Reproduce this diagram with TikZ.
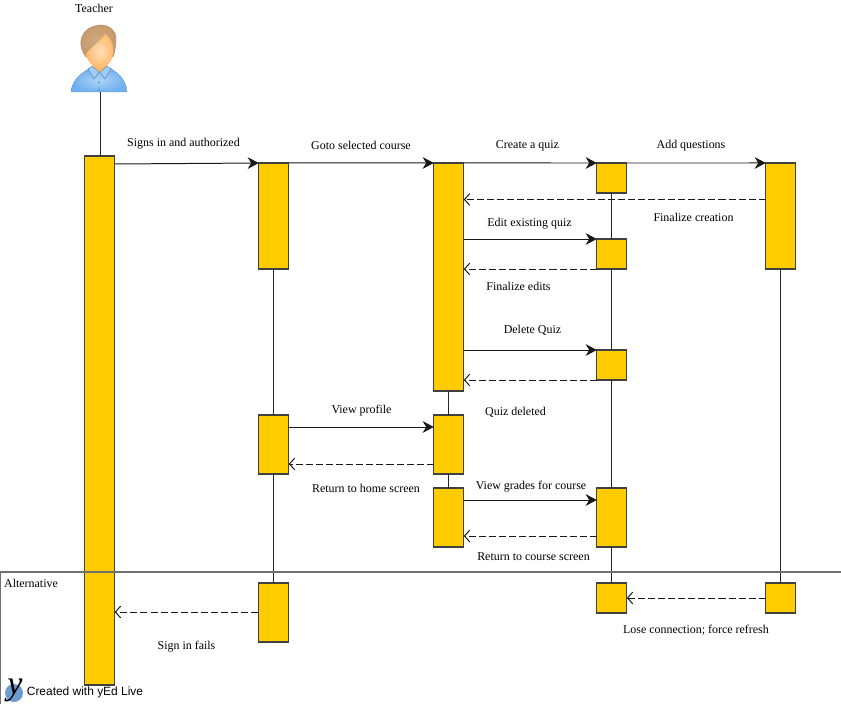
\documentclass[tikz,border=0pt]{standalone}
\usepackage{fontspec}
\setmainfont{Liberation Serif}
\setsansfont{Liberation Sans}
\usetikzlibrary{arrows.meta}
\definecolor{barfill}{HTML}{FFCC00}
\definecolor{boxgray}{HTML}{707070}
\definecolor{hair}{HTML}{C69A6C}
\definecolor{skin}{HTML}{FFC47E}
\definecolor{shirt}{HTML}{6FB0EE}
\definecolor{logoblue}{HTML}{6C9BD0}
\tikzset{
	bar/.style={draw=black!75,fill=barfill,line width=1pt,minimum width=0.9cm,inner sep=0pt,outer sep=0pt},
	msg/.style={line width=0.85pt,black!90,-{Stealth[length=9.5pt,width=10pt,inset=3pt]}},
	reply/.style={line width=0.85pt,black!90,dash pattern=on 6pt off 2.6pt,-{Straight Barb[length=4.5pt,width=10pt]}},
	lifeline/.style={line width=0.85pt,black!85},
	lbl/.style={font=\fontsize{10.2}{12}\selectfont,inner sep=0pt,text height=7pt,text depth=2pt,yshift=-0.85pt}
}
\begin{document}
\begin{tikzpicture}[x=0.03cm,y=-0.03cm]
	\useasboundingbox (0,0) rectangle (841,704);
	
	% teacher icon
	\shade[inner color=shirt!55!white,outer color=shirt,draw=shirt!85!black,line width=0.3pt] (71,92)..controls (72,78) and (84,72) .. (90,68)--(110,68)..controls (116,72) and (126,78) .. (127,92)--cycle;
	\fill[skin!80!orange] (93,62)--(107,62)--(107,72)--(93,72)--cycle;
	\fill[shirt!65!white,draw=shirt!70!black,line width=0.3pt] (88,69)--(92,66)--(99,72)--(94,79)--cycle;
	\fill[shirt!65!white,draw=shirt!70!black,line width=0.3pt] (111,69)--(107,66)--(100,72)--(105,79)--cycle;
	\fill[shirt!70!black] (99,82) circle [radius=0.9];
	\fill[shirt!70!black] (99,90) circle [radius=0.9];
	\shade[inner color=hair!85!white,outer color=hair,draw=hair!85!black,line width=0.3pt] (86,57)..controls (82,52) and (80,45) .. (81,40)..controls (83,30) and (92,25) .. (102,25)..controls (108,25) and (116,30) .. (116,38)..controls (116,46) and (115,52) .. (113,57)--cycle;
	\shade[inner color=skin!55!white,outer color=skin!85!orange] (86,54)..controls (87,62) and (94,68) .. (100,68)..controls (107,68) and (114,60) .. (113,50)..controls (113,42) and (110,37) .. (105,34)..controls (100,42) and (92,46) .. (86,54)--cycle;
	\coordinate (icon) at (100,92);
	
	% bars
	\node[bar,minimum height=15.87cm] (teacher) at (99.7,420.5){};
	\node[bar,minimum height=3.18cm] (b1) at (273.8,216){};
	\node[bar,minimum height=1.77cm] (b2) at (273.8,444.5){};
	\node[bar,minimum height=1.77cm] (b3) at (273.3,612.5){};
	\node[bar,minimum height=6.84cm] (c1) at (448.8,277){};
	\node[bar,minimum height=1.77cm] (c2) at (448.8,444.5){};
	\node[bar,minimum height=1.77cm] (c3) at (448.8,517.5){};
	\node[bar,minimum height=0.9cm] (d1) at (611.8,178){};
	\node[bar,minimum height=0.9cm] (d2) at (611.8,254){};
	\node[bar,minimum height=0.9cm] (d3) at (611.8,365){};
	\node[bar,minimum height=1.77cm] (d4) at (611.8,517.5){};
	\node[bar,minimum height=0.9cm] (d5) at (611.8,598){};
	\node[bar,minimum height=3.18cm] (e1) at (780.8,216){};
	\node[bar,minimum height=0.9cm] (e2) at (780.8,598){};
	
	% lifelines
	\draw[lifeline](icon)--(icon |- teacher.north);
	\draw[lifeline](b1.south)--(b2.north);
	\draw[lifeline](b2.south)--(b2.south |- b3.north);
	\draw[lifeline](c1.south)--(c2.north);
	\draw[lifeline](c2.south)--(c3.north);
	\draw[lifeline](d1.south)--(d2.north);
	\draw[lifeline](d2.south)--(d3.north);
	\draw[lifeline](d3.south)--(d4.north);
	\draw[lifeline](d4.south)--(d5.north);
	\draw[lifeline](e1.south)--(e2.north);
	
	% messages
	\draw[msg](teacher.east |- 0,164)--(b1.north west);
	\draw[msg](b1.north east)--(c1.north west);
	\draw[msg](c1.north east)--(d1.north west);
	\draw[msg](d1.north east)--(e1.north west);
	\draw[reply](e1.west |- 0,199.5)--(c1.east |- 0,199.5);
	\draw[msg](c1.east |- d2.north)--(d2.north west);
	\draw[reply](d2.south west)--(c1.east |- d2.south);
	\draw[msg](c1.east |- d3.north)--(d3.north west);
	\draw[reply](d3.south west)--(c1.east |- d3.south);
	\draw[msg](b2.east |- 0,427)--(c2.west |- 0,427);
	\draw[reply](c2.west |- 0,464)--(b2.east |- 0,464);
	\draw[msg](c3.east |- 0,500)--(d4.west |- 0,500);
	\draw[reply](d4.west |- 0,536)--(c3.east |- 0,536);
	\draw[reply](e2.west)--(d5.east);
	\draw[reply](b3.west |- 0,612)--(teacher.east |- 0,612);
	
	% alternative frame
	\draw[boxgray,line width=1pt](0.5,572) rectangle (841.5,705);
	
	% labels
	\node[lbl] (lteacher) at (94,9){Teacher};
	\node[lbl] (lsigns) at (183.5,143){Signs in and authorized};
	\node[lbl] (lgoto) at (361,146){Goto selected course};
	\node[lbl] (lcreate) at (527.5,145){Create a quiz};
	\node[lbl] (ladd) at (691,145){Add questions};
	\node[lbl] (lfinal) at (693.5,218){Finalize creation};
	\node[lbl] (ledit) at (529.5,223){Edit existing quiz};
	\node[lbl] (lfedits) at (518.5,287){Finalize edits};
	\node[lbl] (ldelete) at (532.5,330){Delete Quiz};
	\node[lbl] (ldeleted) at (515.5,412){Quiz deleted};
	\node[lbl] (lprofile) at (361.5,410){View profile};
	\node[lbl] (lhome) at (366,489){Return to home screen};
	\node[lbl] (lgrades) at (531,486){View grades for course};
	\node[lbl] (lcourse) at (533.5,557){Return to course screen};
	\node[lbl] (lforce) at (696,630){Lose connection; force refresh};
	\node[lbl] (lfails) at (186.5,646){Sign in fails};
	\node[lbl] (lalt) at (31,584){Alternative};
	
	% logo
	\fill[logoblue] (14,693) circle [radius=9];
	\node[inner sep=0pt,font=\fontsize{29}{29}\selectfont\itshape] (logo) at (15,690){y};
	\node[inner sep=0pt,font=\sffamily\fontsize{10.2}{12}\selectfont] (lyed) at (85,692.5){Created with yEd Live};
\end{tikzpicture}
\end{document}
